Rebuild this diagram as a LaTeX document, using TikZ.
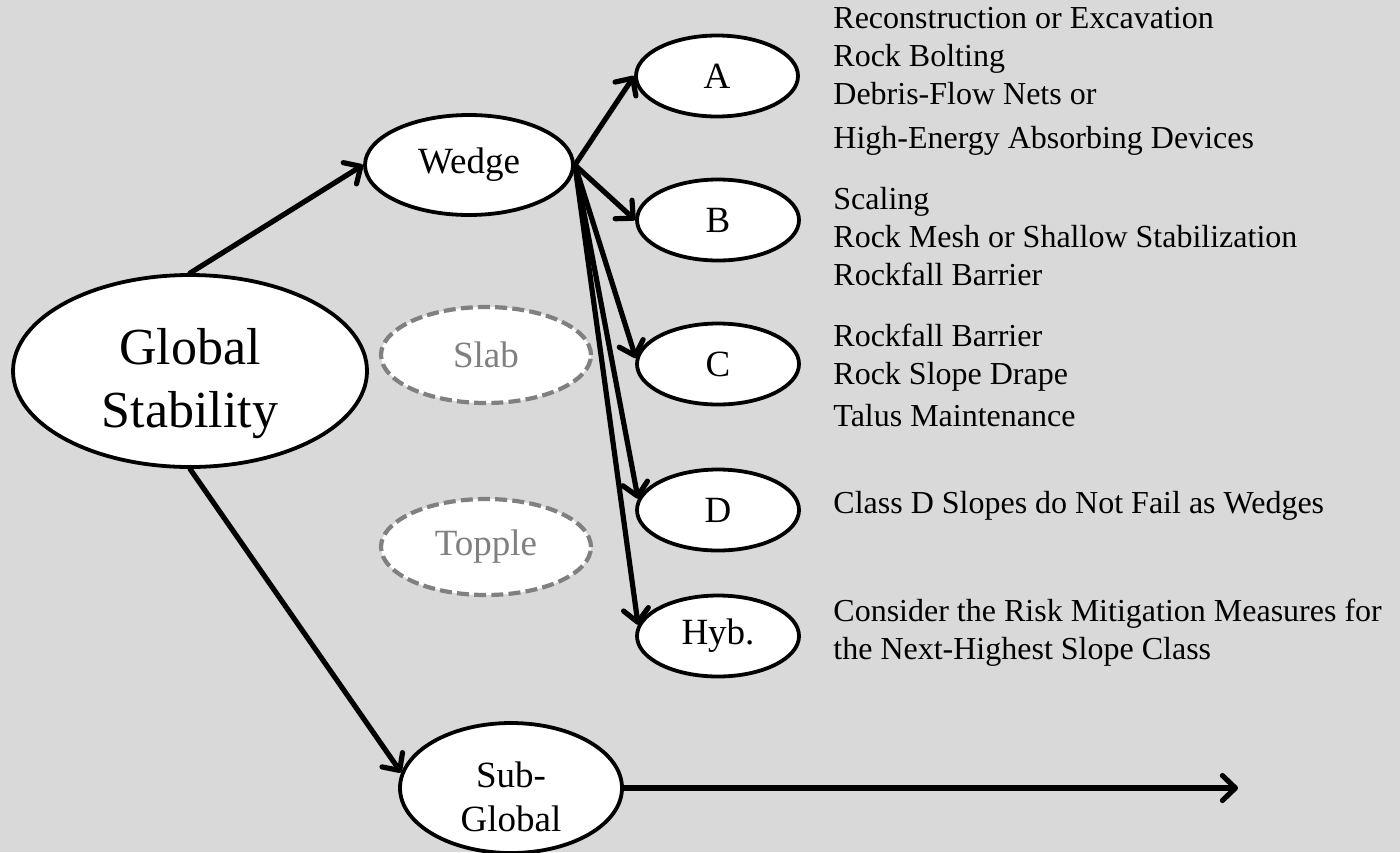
\documentclass[tikz,border=0pt]{standalone}
\usepackage{fontspec}
\setmainfont{Liberation Serif}
\usetikzlibrary{shapes.geometric,arrows.meta}
\definecolor{PanelGray}{RGB}{217,217,217}
\definecolor{GhostGray}{RGB}{128,128,128}
\tikzset{
  bubble/.style={ellipse,draw=black,fill=white,line width=1.9pt,inner sep=0pt,
                 minimum width=81pt,minimum height=40.5pt,
                 font=\fontsize{18.5}{22}\selectfont},
  ghost/.style={ellipse,draw=GhostGray,fill=white,dash pattern=on 6pt off 2.6pt,
                line width=2.1pt,inner sep=0pt,minimum width=105pt,minimum height=48pt,
                text=GhostGray,font=\fontsize{18.5}{22}\selectfont},
  note/.style={anchor=north west,align=left,inner sep=0pt,
               font=\fontsize{16}{19}\selectfont},
  arr/.style={-{Straight Barb[length=6.5pt,width=12.5pt,round]},line width=2.6pt,line cap=round},
}

\begin{document}
\begin{tikzpicture}[x=0.5pt,y=-0.5pt]
  % Panel
  \fill[PanelGray] (0,0) rectangle (1400,852);
  \useasboundingbox (0,0) rectangle (1400,852);

  % Global level
  \node[bubble,minimum width=177pt,minimum height=96pt] (glob) at (190,371) {};
  \node[align=center,font=\fontsize{26}{31.5}\selectfont] (globtxt) at (190,384) {Global\\Stability};

  % Failure modes
  \node[bubble,minimum width=104pt,minimum height=50pt] (wedge) at (469,165) {Wedge};
  \node[ghost] (slab) at (486,355) {Slab};
  \node[ghost] (topple) at (486,547) {Topple};
  \node[bubble,minimum width=111pt,minimum height=65pt] (sub) at (511,788) {};
  \node[align=center,font=\fontsize{18.5}{22}\selectfont] (subtxt) at (511,797) {Sub-\\Global};

  % Slope classes
  \node[bubble] (A) at (717,76) {A};
  \node[bubble] (B) at (718,220) {B};
  \node[bubble] (C) at (718,364) {C};
  \node[bubble] (D) at (718,510) {D};
  \node[bubble] (hyb) at (718,636) {Hyb.};

  % Mitigation measures
  \node[note] (mitA) at (833,7) {Reconstruction or Excavation\\Rock Bolting\\Debris-Flow Nets or\\[3pt]High-Energy Absorbing Devices};
  \node[note] (mitB) at (833,187) {Scaling\\Rock Mesh or Shallow Stabilization\\Rockfall Barrier};
  \node[note] (mitC) at (833,324) {Rockfall Barrier\\Rock Slope Drape\\[2pt]Talus Maintenance};
  \node[note] (mitD) at (833,491) {Class D Slopes do Not Fail as Wedges};
  \node[note] (mitH) at (833,599) {Consider the Risk Mitigation Measures for\\the Next-Highest Slope Class};

  % Connectors
  \coordinate (subend) at (1238,788);
  \draw[arr] (glob.north) -- (wedge.west);
  \draw[arr] (glob.south) -- (sub.172);
  \draw[arr] (wedge.east) -- (A.west);
  \draw[arr] (wedge.east) -- (B.west);
  \draw[arr] (wedge.east) -- (C.176);
  \draw[arr] (wedge.east) -- (D.172);
  \draw[arr] (wedge.east) -- (hyb.172);
  \draw[arr] (sub.east) -- (subend);
\end{tikzpicture}
\end{document}
